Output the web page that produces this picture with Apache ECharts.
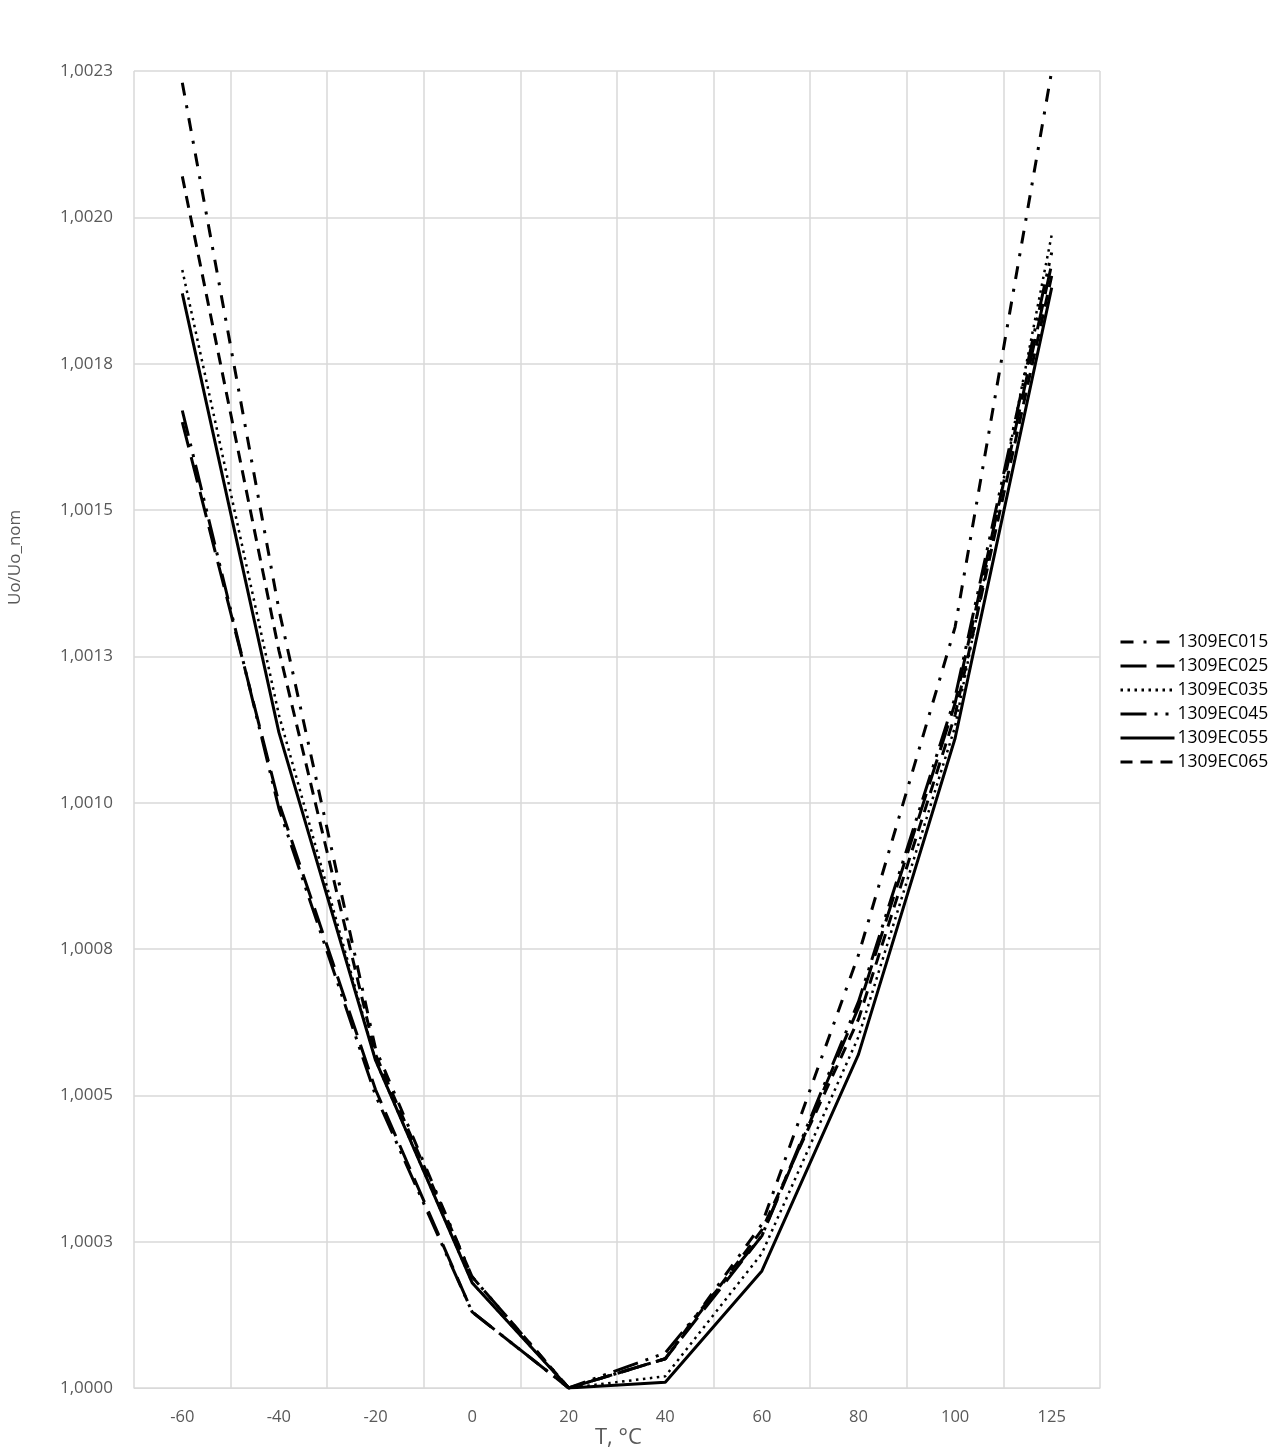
<!DOCTYPE html>
<html>
<head>
<meta charset="utf-8">
<script src="https://cdn.jsdelivr.net/npm/echarts@6/dist/echarts.min.js"></script>
<style>
html,body{margin:0;padding:0;background:#fff;}
#chart{width:1287px;height:1453px;}
</style>
</head>
<body>
<div id="chart"></div>
<script>
const categories = ['-60','-40','-20','0','20','40','60','80','100','125'];
const seriesNames = ['1309EC015','1309EC025','1309EC035','1309EC045','1309EC055','1309EC065'];
const ec015 = [1.00223,1.00133,1.00058,1.00019,1.00000,1.00005,1.00028,1.00074,1.00130,1.00225];
const ec025 = [1.00165,1.00100,1.00051,1.00013,1.00000,1.00005,1.00026,1.00065,1.00117,1.00192];
const ec035 = [1.00191,1.00115,1.00056,1.00018,1.00000,1.00002,1.00023,1.00060,1.00113,1.00197];
const ec045 = [1.00167,1.00099,1.00050,1.00013,1.00000,1.00006,1.00026,1.00066,1.00118,1.00194];
const ec055 = [1.00187,1.00112,1.00056,1.00018,1.00000,1.00001,1.00020,1.00057,1.00111,1.00188];
const ec065 = [1.00207,1.00126,1.00057,1.00019,1.00000,1.00005,1.00027,1.00063,1.00115,1.00190];
const yMin = 1.0, yMax = 1.00225, yStep = 0.00025;

const dashTypes = [
  [13,10,3,10],
  [26,10],
  [2.5,4.5],
  [26,8,3,8,3,8],
  'solid',
  [12,8]
];
const widths = [3,3,2.5,3,3,3];
const allData = [ec015, ec025, ec035, ec045, ec055, ec065];

function fmt(v){
  const n = Math.round(v*1e5);
  const r = Math.floor((n+5)/10);
  const s = String(r);
  return s.slice(0, s.length-4) + ',' + s.slice(s.length-4);
}

const chart = echarts.init(document.getElementById('chart'), null, {renderer:'canvas'});
chart.setOption({
  animation:false,
  backgroundColor:'#fff',
  textStyle:{fontFamily:'"Open Sans", "Liberation Sans", sans-serif'},
  grid:{left:134, right:187, top:71, bottom:65, containLabel:false},
  legend:{
    orient:'vertical', left:1114, top:628, itemGap:6, itemWidth:54, itemHeight:17.5,
    data: seriesNames,
    itemStyle:{opacity:0, borderWidth:0},
    lineStyle:{width:3},
    textStyle:{color:'#000', fontSize:17.5, fontFamily:'"Open Sans", sans-serif', padding:[0,0,0,-2]},
  },
  xAxis:{
    type:'category', data:categories, boundaryGap:true,
    axisLine:{lineStyle:{color:'#d9d9d9', width:1}},
    axisTick:{show:false},
    axisLabel:{color:'#595959', fontSize:16.5, margin:21},
    splitLine:{show:true, lineStyle:{color:'#d9d9d9', width:1.5}},
  },
  yAxis:{
    type:'value', min:yMin, max:yMax, interval:yStep,
    axisLine:{show:false}, axisTick:{show:false},
    axisLabel:{color:'#595959', fontSize:17, margin:21, formatter:fmt},
    splitLine:{lineStyle:{color:'#d9d9d9', width:1.5}},
  },
  graphic:[
    {type:'text', left:595, top:1427, style:{text:'T, °C', fill:'#595959', fontSize:22, fontFamily:'"Open Sans", sans-serif'}},
    {type:'text', x:7, y:605, rotation:Math.PI/2, style:{text:'Uo/Uo_nom', fill:'#595959', fontSize:17, fontFamily:'"Open Sans", sans-serif', align:'left', verticalAlign:'top'}}
  ],
  series: seriesNames.map((n,i)=>({
    name:n, type:'line', data:allData[i], symbol:'none', smooth:false,
    lineStyle:{color:'#000', width:widths[i], type:dashTypes[i], cap:'butt'},
    itemStyle:{color:'#000'}
  }))
});
</script>
</body>
</html>
